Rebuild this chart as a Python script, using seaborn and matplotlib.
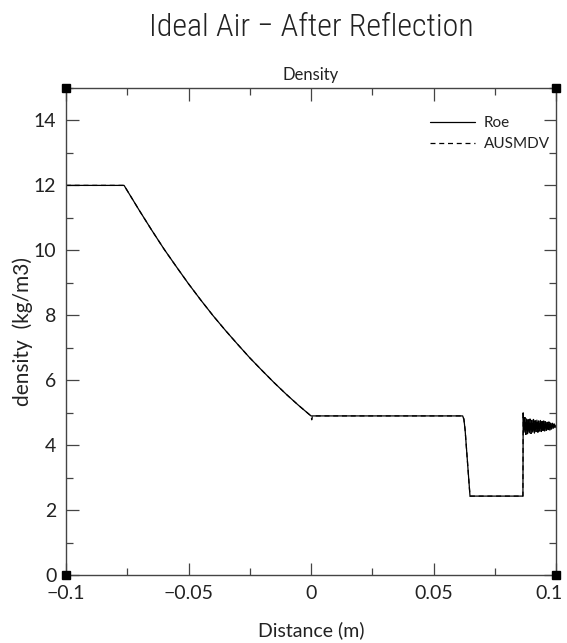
import numpy as np
import pandas as pd
import matplotlib
matplotlib.use("Agg")
import matplotlib.pyplot as plt
import matplotlib.transforms as mtransforms
from matplotlib import font_manager
from matplotlib.ticker import FixedLocator, MultipleLocator
import seaborn as sns

# ---------------- data ----------------
dist_fan = [-0.1000, -0.0763, -0.0700, -0.0650, -0.0600, -0.0550, -0.0500,
            -0.0450, -0.0400, -0.0350, -0.0300, -0.0250, -0.0200, -0.0150,
            -0.0100, -0.0050, 0.0000]
dens_fan = [12.00, 12.00, 11.22, 10.62, 10.04, 9.50, 8.97,
            8.47, 7.99, 7.54, 7.11, 6.69, 6.30, 5.92,
            5.56, 5.22, 4.90]

dist_glitch = [0.0003, 0.0006]
dens_glitch = [4.78, 4.90]

dist_shock = [0.0300, 0.0619, 0.0624, 0.0629, 0.0649, 0.0700, 0.0865]
dens_shock = [4.90, 4.90, 4.80, 4.47, 2.43, 2.43, 2.43]

dist_osc = [0.0866, 0.0870, 0.0873, 0.0877, 0.0880, 0.0884, 0.0887, 0.0891,
            0.0894, 0.0898, 0.0901, 0.0905, 0.0908, 0.0912, 0.0915, 0.0919,
            0.0922, 0.0926, 0.0929, 0.0933, 0.0936, 0.0940, 0.0943, 0.0947,
            0.0950, 0.0954, 0.0957, 0.0961, 0.0964, 0.0968, 0.0971, 0.0975,
            0.0978, 0.0982, 0.0985, 0.0989, 0.0992, 0.0996, 0.1000]
dens_osc = [4.99, 4.40, 4.85, 4.33, 4.80, 4.35, 4.78, 4.38,
            4.80, 4.36, 4.76, 4.40, 4.79, 4.37, 4.75, 4.42,
            4.77, 4.40, 4.74, 4.43, 4.76, 4.42, 4.73, 4.45,
            4.74, 4.44, 4.72, 4.46, 4.70, 4.48, 4.71, 4.47,
            4.68, 4.50, 4.67, 4.52, 4.65, 4.54, 4.62]

schemes = ["Roe", "AUSMDV"]
xtick_values = [-0.1, -0.05, 0.0, 0.05, 0.1]
xtick_labels = ["\u22120.1", "\u22120.05", "0", "0.05", "0.1"]
ytick_values = [0, 2, 4, 6, 8, 10, 12, 14]
ytick_labels = ["0", "2", "4", "6", "8", "10", "12", "14"]

roe_x = dist_fan + dist_shock + dist_osc
roe_y = dens_fan + dens_shock + dens_osc
aus_x = dist_fan + dist_glitch + dist_shock + dist_osc
aus_y = dens_fan + dens_glitch + dens_shock + dens_osc

df = pd.concat([
    pd.DataFrame({"Distance": roe_x, "Density": roe_y, "Scheme": schemes[0]}),
    pd.DataFrame({"Distance": aus_x, "Density": aus_y, "Scheme": schemes[1]}),
], ignore_index=True)

# ---------------- style ----------------
sns.set_theme(style="white")


def pick(fams):
    for f in fams:
        try:
            font_manager.findfont(f, fallback_to_default=False)
            return f
        except Exception:
            pass
    return "DejaVu Sans"


FONT = pick(["Lato", "Open Sans", "Liberation Sans", "DejaVu Sans"])
TFONT = pick(["Roboto Condensed", "Liberation Sans Narrow", FONT])
plt.rcParams["font.family"] = [FONT, "DejaVu Sans"]
plt.rcParams["font.weight"] = "normal"
plt.rcParams["axes.unicode_minus"] = True

fig = plt.figure(figsize=(5.67, 6.43), dpi=100)
ax = fig.add_axes([66 / 567, 1 - 575 / 643, 490 / 567, 487 / 643])

sns.lineplot(data=df, x="Distance", y="Density", hue="Scheme", style="Scheme",
             hue_order=schemes, style_order=schemes,
             palette={"Roe": "black", "AUSMDV": "black"},
             dashes={"Roe": "", "AUSMDV": (4, 3)},
             estimator=None, sort=False, linewidth=0.9, ax=ax)

ax.set_xlim(-0.1, 0.1)
ax.set_ylim(0, 15)
ax.xaxis.set_major_locator(FixedLocator(xtick_values))
ax.set_xticklabels(xtick_labels)
ax.xaxis.set_minor_locator(MultipleLocator(0.025))
ax.yaxis.set_major_locator(FixedLocator(ytick_values))
ax.set_yticklabels(ytick_labels)
ax.yaxis.set_minor_locator(MultipleLocator(1))

ax.tick_params(which="both", direction="in", top=True, right=True,
               bottom=True, left=True, color="#444444", width=0.9,
               labelsize=14, labelcolor="#222222")
ax.tick_params(which="major", length=9, pad=7)
ax.tick_params(which="minor", length=5)

# nudge the last x tick label inward so it stays inside the figure
last = ax.get_xticklabels()[-1]
last.set_transform(last.get_transform() +
                   mtransforms.ScaledTranslation(-5 / 72, 0, fig.dpi_scale_trans))

for s in ax.spines.values():
    s.set_color("#444444")
    s.set_linewidth(1.0)

ax.set_xlabel("Distance (m)", fontsize=14, labelpad=14, color="#222222")
ax.set_ylabel("density  (kg/m3)", fontsize=15, color="#222222")
ax.yaxis.set_label_coords(-0.068, 0.5)
ax.set_title("Density", fontsize=12, pad=6, color="#222222")
fig.text(311 / 567, 1 - 27 / 643, "Ideal Air \u2212 After Reflection",
         ha="center", va="center", fontsize=23, color="#222222",
         family=[TFONT, "DejaVu Sans"], fontweight="light")

# corner markers
ax.plot([0, 1, 0, 1], [0, 0, 1, 1], "s", transform=ax.transAxes,
        clip_on=False, ms=6, color="black", zorder=6)

leg = ax.legend(loc="upper right", bbox_to_anchor=(1.0, 0.955), frameon=False,
                fontsize=11, handlelength=2.9, handletextpad=0.6,
                labelspacing=0.45, borderaxespad=0.0)
for t in leg.get_texts():
    t.set_color("#222222")

fig.savefig("out.png", dpi=100)
